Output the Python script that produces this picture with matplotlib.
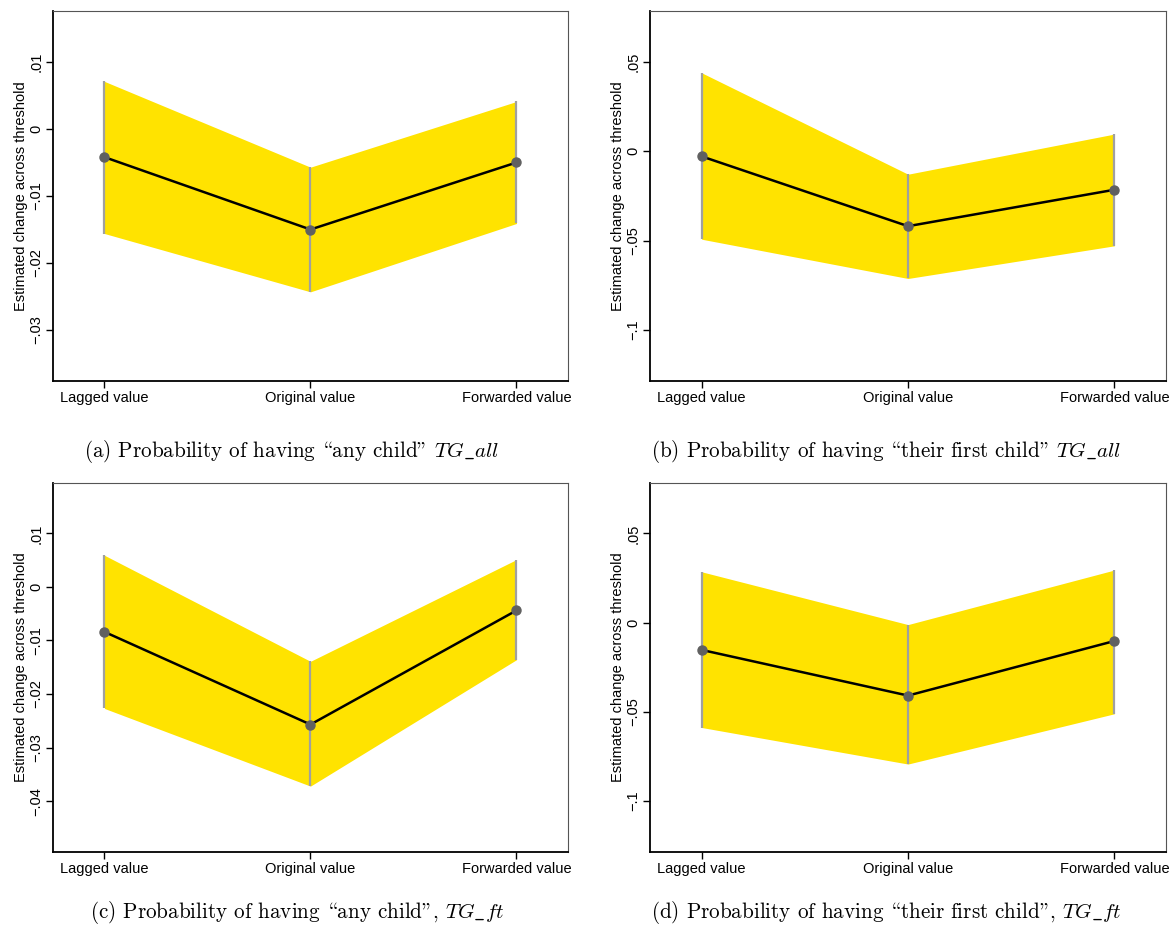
import numpy as np
import matplotlib
matplotlib.use("Agg")
import matplotlib.pyplot as plt

plt.rcParams['font.family'] = ['Liberation Sans', 'DejaVu Sans']
plt.rcParams['mathtext.fontset'] = 'cm'

# x categories
categories = ['Lagged value', 'Original value', 'Forwarded value']

# (a) any child, TG_all
est_a = [-0.0042, -0.0150, -0.0050]
lo_a = [-0.0156, -0.0243, -0.0141]
hi_a = [0.0071, -0.0057, 0.0041]
ticks_a = [0.01, 0.0, -0.01, -0.02, -0.03]
labels_a = ['.01', '0', '\u2212.01', '\u2212.02', '\u2212.03']

# (b) first child, TG_all
est_b = [-0.0028, -0.0419, -0.0215]
lo_b = [-0.0492, -0.0712, -0.0529]
hi_b = [0.0440, -0.0128, 0.0097]
ticks_b = [0.05, 0.0, -0.05, -0.1]
labels_b = ['.05', '0', '\u2212.05', '\u2212.1']

# (c) any child, TG_ft
est_c = [-0.0084, -0.0257, -0.0044]
lo_c = [-0.0227, -0.0372, -0.0136]
hi_c = [0.0059, -0.0139, 0.0051]
ticks_c = [0.01, 0.0, -0.01, -0.02, -0.03, -0.04]
labels_c = ['.01', '0', '\u2212.01', '\u2212.02', '\u2212.03', '\u2212.04']

# (d) first child, TG_ft
est_d = [-0.0153, -0.0409, -0.0103]
lo_d = [-0.0588, -0.0793, -0.0511]
hi_d = [0.0285, -0.0011, 0.0295]
ticks_d = [0.05, 0.0, -0.05, -0.1]
labels_d = ['.05', '0', '\u2212.05', '\u2212.1']

# cmr10 keeps TeX (OT1) slots: '\' is the opening and '"' the closing double quote
captions = [
    '(a) Probability of having \\any child" $TG\\_all$',
    '(b) Probability of having \\their first child" $TG\\_all$',
    '(c) Probability of having \\any child", $TG\\_ft$',
    '(d) Probability of having \\their first child", $TG\\_ft$',
]

YELLOW = '#ffe300'


def draw_panel(ax, est, lo, hi, ticks, labels, ylim):
    x = np.arange(len(categories))
    ax.fill_between(x, lo, hi, color=YELLOW, linewidth=0, zorder=1)
    ax.vlines(x, lo, hi, color='#a0a0a0', linewidth=1.6, zorder=2)
    ax.plot(x, est, color='black', linewidth=1.8, zorder=3)
    ax.plot(x, est, 'o', color='#606060', markersize=6.5, zorder=4)
    ax.set_xlim(-0.25, 2.25)
    ax.set_ylim(*ylim)
    ax.set_xticks(x)
    ax.set_xticklabels(categories, fontsize=10.5)
    ax.set_yticks(ticks)
    ax.set_yticklabels(labels, fontsize=10.5, rotation=90, va='center')
    ax.set_ylabel('Estimated change across threshold', fontsize=10.5, labelpad=1)
    ax.tick_params(direction='out', length=5, width=1, color='black', pad=2)
    for s in ['left', 'bottom']:
        ax.spines[s].set_linewidth(1.3)
        ax.spines[s].set_color('black')
    for s in ['top', 'right']:
        ax.spines[s].set_linewidth(0.8)
        ax.spines[s].set_color('#555555')


fig = plt.figure(figsize=(11.74, 9.34), dpi=100)
ax_a = fig.add_axes([0.0451, 0.5921, 0.4387, 0.3961])
ax_b = fig.add_axes([0.5537, 0.5921, 0.4395, 0.3961])
ax_c = fig.add_axes([0.0451, 0.0878, 0.4387, 0.3951])
ax_d = fig.add_axes([0.5537, 0.0878, 0.4395, 0.3951])

draw_panel(ax_a, est_a, lo_a, hi_a, ticks_a, labels_a, (-0.0376, 0.0176))
draw_panel(ax_b, est_b, lo_b, hi_b, ticks_b, labels_b, (-0.1286, 0.0786))
draw_panel(ax_c, est_c, lo_c, hi_c, ticks_c, labels_c, (-0.0495, 0.0194))
draw_panel(ax_d, est_d, lo_d, hi_d, ticks_d, labels_d, (-0.1286, 0.0783))

cap_font = 'cmr10'
cap_size = 15.2
fig.text(0.248, 0.517, captions[0], ha='center', va='center', fontsize=cap_size, family=cap_font)
fig.text(0.755, 0.517, captions[1], ha='center', va='center', fontsize=cap_size, family=cap_font)
fig.text(0.253, 0.0235, captions[2], ha='center', va='center', fontsize=cap_size, family=cap_font)
fig.text(0.755, 0.0235, captions[3], ha='center', va='center', fontsize=cap_size, family=cap_font)

fig.savefig('out.png', dpi=100)
